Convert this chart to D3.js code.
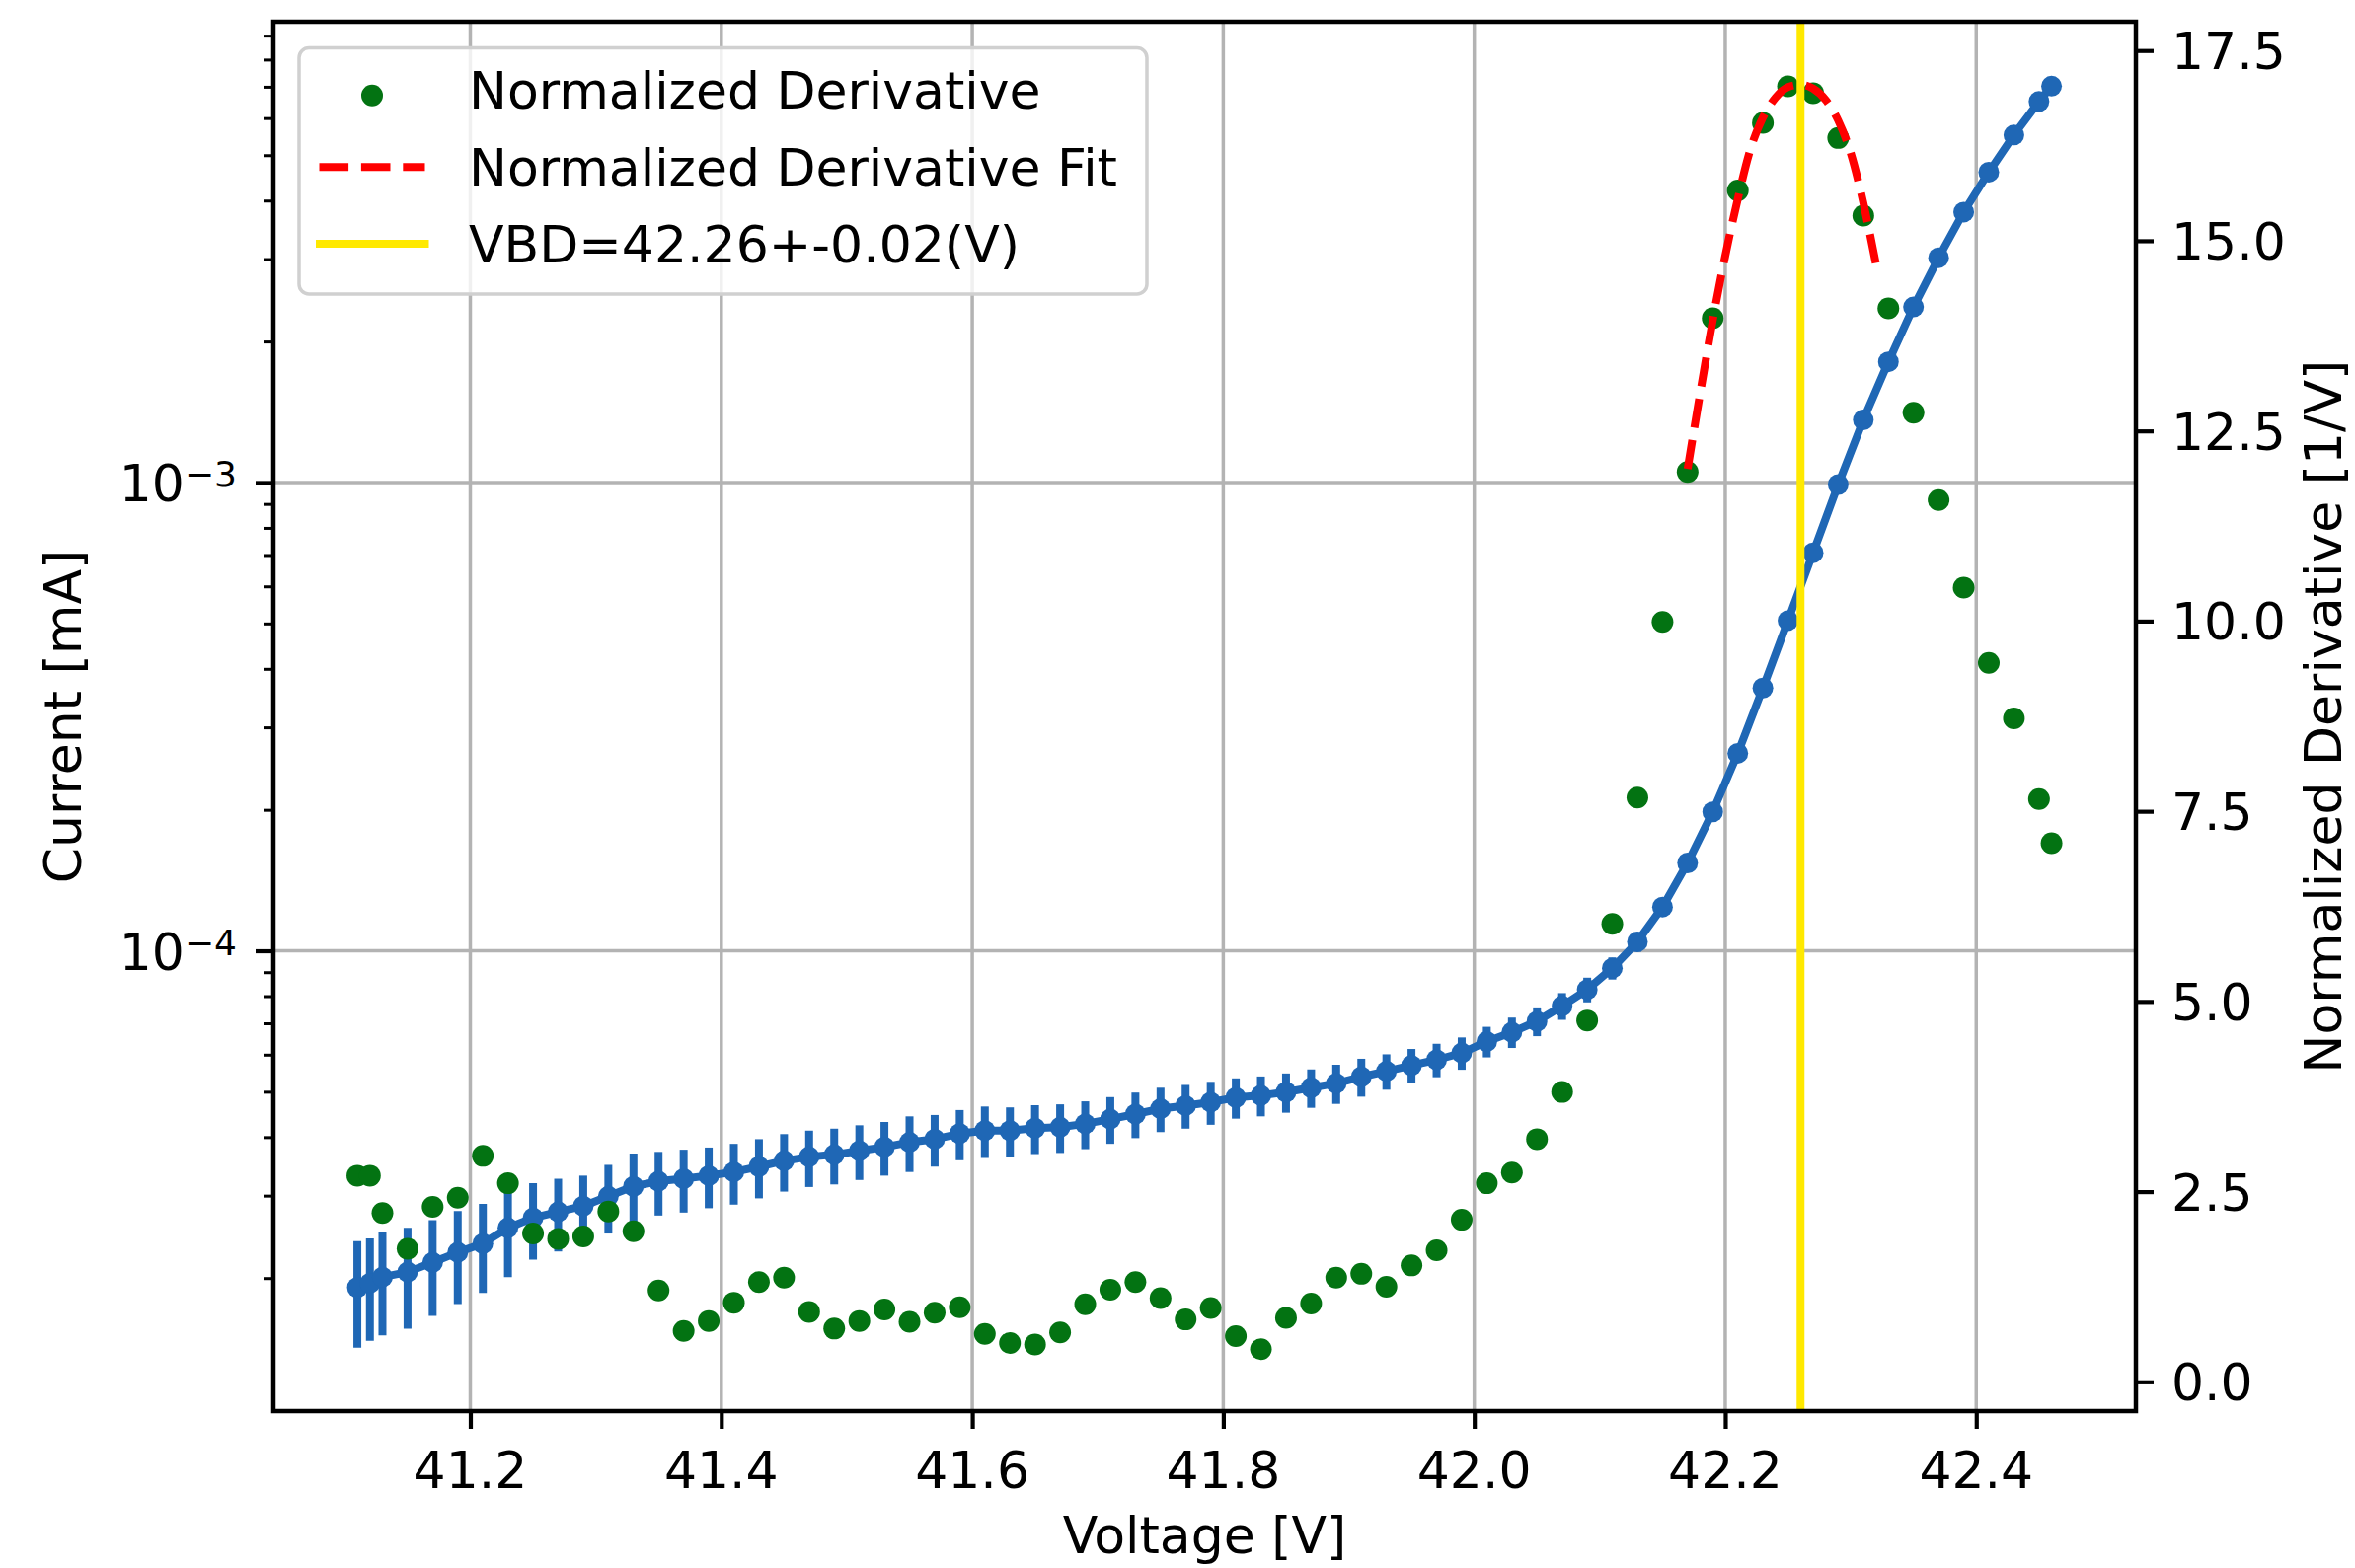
<!DOCTYPE html>
<html>
<head>
<meta charset="utf-8">
<script src="https://cdn.jsdelivr.net/npm/d3@7"></script>
<style>
  html, body { margin: 0; padding: 0; background: #ffffff; }
  svg { display: block; }
  text { font-family: "DejaVu Sans", sans-serif; fill: #000; }
</style>
</head>
<body>
<svg id="chart" width="2386" height="1589"></svg>
<script>
// ---------------- data ----------------
const voltage = [41.11, 41.12, 41.13, 41.15, 41.17, 41.19, 41.21, 41.23, 41.25, 41.27,
  41.29, 41.31, 41.33, 41.35, 41.37, 41.39, 41.41, 41.43, 41.45, 41.47,
  41.49, 41.51, 41.53, 41.55, 41.57, 41.59, 41.61, 41.63, 41.65, 41.67,
  41.69, 41.71, 41.73, 41.75, 41.77, 41.79, 41.81, 41.83, 41.85, 41.87,
  41.89, 41.91, 41.93, 41.95, 41.97, 41.99, 42.01, 42.03, 42.05, 42.07,
  42.09, 42.11, 42.13, 42.15, 42.17, 42.19, 42.21, 42.23, 42.25, 42.27,
  42.29, 42.31, 42.33, 42.35, 42.37, 42.39, 42.41, 42.43, 42.45, 42.46];

// current in units of 1e-5 mA
const current = [1.91, 1.95, 2.01, 2.06, 2.16, 2.27, 2.37, 2.56, 2.69, 2.77,
  2.85, 2.99, 3.14, 3.22, 3.26, 3.31, 3.37, 3.46, 3.56, 3.63,
  3.67, 3.74, 3.81, 3.90, 3.96, 4.07, 4.13, 4.13, 4.18, 4.20,
  4.27, 4.37, 4.48, 4.60, 4.67, 4.75, 4.86, 4.91, 4.99, 5.10,
  5.21, 5.38, 5.53, 5.69, 5.85, 6.05, 6.40, 6.70, 7.07, 7.62,
  8.26, 9.18, 10.45, 12.4, 15.4, 19.8, 26.4, 36.4, 50.7, 70.8,
  99.0, 136, 181, 237, 302, 378, 460, 552, 651, 702];

// current uncertainty in units of 1e-5 mA
const currentErr = [0.49, 0.48, 0.50, 0.50, 0.50, 0.51, 0.51, 0.55, 0.50, 0.49,
  0.46, 0.50, 0.55, 0.50, 0.50, 0.49, 0.50, 0.50, 0.50, 0.50,
  0.50, 0.50, 0.50, 0.53, 0.50, 0.50, 0.52, 0.50, 0.50, 0.50,
  0.50, 0.50, 0.50, 0.50, 0.50, 0.50, 0.48, 0.48, 0.48, 0.48,
  0.50, 0.50, 0.48, 0.48, 0.48, 0.48, 0.48, 0.50, 0.50, 0.50,
  0.50, 0.50, 0.50, 0.50, 0.50, 0.50, 0.50, 0.50, 0.50, 0.50,
  0.50, 0.50, 0.50, 0.50, 0.50, 0.50, 0.50, 0.50, 0.50, 0.50];

const derivative = [2.71, 2.71, 2.22, 1.75, 2.30, 2.42, 2.97, 2.61, 1.95, 1.88,
  1.91, 2.24, 1.98, 1.20, 0.67, 0.80, 1.04, 1.31, 1.37, 0.92,
  0.70, 0.80, 0.95, 0.79, 0.91, 0.98, 0.63, 0.51, 0.49, 0.65,
  1.02, 1.21, 1.31, 1.10, 0.82, 0.97, 0.60, 0.43, 0.84, 1.03,
  1.37, 1.42, 1.25, 1.53, 1.73, 2.13, 2.61, 2.75, 3.19, 3.81,
  4.75, 6.02, 7.68, 9.99, 11.96, 13.98, 15.66, 16.55, 17.03, 16.94,
  16.35, 15.33, 14.11, 12.74, 11.59, 10.44, 9.45, 8.72, 7.66, 7.08];

const fitVoltage = [42.17, 42.18, 42.19, 42.20, 42.21, 42.22, 42.23, 42.24,
  42.25, 42.26, 42.27, 42.28, 42.29, 42.30, 42.31, 42.32];
const fitValue = [12.0, 13.0, 13.95, 14.8, 15.55, 16.2, 16.62, 16.88,
  17.02, 17.05, 17.0, 16.85, 16.58, 16.15, 15.5, 14.7];

const vbd = 42.26;

const xTicks = [41.2, 41.4, 41.6, 41.8, 42.0, 42.2, 42.4];
const xTickLabels = ["41.2", "41.4", "41.6", "41.8", "42.0", "42.2", "42.4"];
const leftTicks = [1e-4, 1e-3];
const leftTickExponents = ["\u22124", "\u22123"];
const rightTicks = [0, 2.5, 5, 7.5, 10, 12.5, 15, 17.5];
const rightTickLabels = ["0.0", "2.5", "5.0", "7.5", "10.0", "12.5", "15.0", "17.5"];
const legendLabels = ["Normalized Derivative", "Normalized Derivative Fit", "VBD=42.26+-0.02(V)"];
const axisTitles = { x: "Voltage [V]", yLeft: "Current [mA]", yRight: "Normalized Derivative [1/V]" };

// ---------------- layout ----------------
const L = 277, R = 2164, T = 22, B = 1430;
const FS = 52;
const BLUE = "#1f67b5", GREEN = "#037312", RED = "#ff0000", YELLOW = "#ffe900";

const svg = d3.select("#chart");

const x = d3.scaleLinear().domain([41.0431, 42.5272]).range([L, R]);
const yL = d3.scaleLog().domain([Math.pow(10, -4.983), Math.pow(10, -2.016)]).range([B, T]);
const yR = d3.scaleLinear().domain([-0.385, 17.879]).range([B, T]);

const pts = voltage.map((v, i) => ({
  v, c: current[i] * 1e-5, e: currentErr[i] * 1e-5, d: derivative[i]
}));

// ---------------- grid ----------------
const grid = svg.append("g").attr("stroke", "#b3b3b3").attr("stroke-width", 3.5);
grid.selectAll("line.gx").data(xTicks).join("line")
  .attr("x1", d => x(d)).attr("x2", d => x(d)).attr("y1", T).attr("y2", B);
grid.selectAll("line.gy").data(leftTicks).join("line")
  .attr("x1", L).attr("x2", R).attr("y1", d => yL(d)).attr("y2", d => yL(d));

// ---------------- current with error bars ----------------
const cur = svg.append("g");
cur.selectAll("line.err").data(pts).join("line")
  .attr("x1", d => x(d.v)).attr("x2", d => x(d.v))
  .attr("y1", d => yL(d.c - d.e)).attr("y2", d => yL(d.c + d.e))
  .attr("stroke", BLUE).attr("stroke-width", 8);
cur.append("path").datum(pts)
  .attr("d", d3.line().x(d => x(d.v)).y(d => yL(d.c)))
  .attr("fill", "none").attr("stroke", BLUE).attr("stroke-width", 8)
  .attr("stroke-linejoin", "round");
cur.selectAll("circle").data(pts).join("circle")
  .attr("cx", d => x(d.v)).attr("cy", d => yL(d.c)).attr("r", 10.5)
  .attr("fill", BLUE);

// ---------------- derivative (twin axis) ----------------
const der = svg.append("g");
der.selectAll("circle").data(pts).join("circle")
  .attr("cx", d => x(d.v)).attr("cy", d => yR(d.d)).attr("r", 11)
  .attr("fill", GREEN);

const fitPts = fitVoltage.map((v, i) => ({ v, f: fitValue[i] }));
der.append("path").datum(fitPts)
  .attr("d", d3.line().x(d => x(d.v)).y(d => yR(d.f)).curve(d3.curveMonotoneX))
  .attr("fill", "none").attr("stroke", RED).attr("stroke-width", 8)
  .attr("stroke-dasharray", "29.6 12.8");

der.append("line")
  .attr("x1", x(vbd)).attr("x2", x(vbd)).attr("y1", T).attr("y2", B)
  .attr("stroke", YELLOW).attr("stroke-width", 8);

// ---------------- axes ----------------
function styleAxis(g) {
  g.select(".domain").remove();
  g.selectAll(".tick line").attr("stroke", "#000").attr("stroke-width", 4.2);
  g.selectAll(".tick text").remove();
}

svg.append("g").attr("transform", `translate(0,${B})`)
  .call(d3.axisBottom(x).tickValues(xTicks).tickSize(18)).call(styleAxis);
svg.append("g").attr("transform", `translate(${L},0)`)
  .call(d3.axisLeft(yL).tickValues(leftTicks).tickSize(18)).call(styleAxis);

const [d0, d1] = yL.domain();
const minorTicks = yL.ticks().filter(t => t > d0 && t < d1 && leftTicks.every(m => Math.abs(m - t) / m > 1e-6));
svg.append("g").attr("transform", `translate(${L},0)`)
  .call(d3.axisLeft(yL).tickValues(minorTicks).tickSize(10)).call(styleAxis)
  .selectAll(".tick line").attr("stroke-width", 3);

svg.append("g").attr("transform", `translate(${R},0)`)
  .call(d3.axisRight(yR).tickValues(rightTicks).tickSize(18)).call(styleAxis);

// spines
svg.append("rect").attr("x", L).attr("y", T).attr("width", R - L).attr("height", B - T)
  .attr("fill", "none").attr("stroke", "#000").attr("stroke-width", 4.5);

// tick labels
svg.append("g").selectAll("text").data(xTicks).join("text")
  .attr("x", d => x(d)).attr("y", B + 78).attr("text-anchor", "middle")
  .attr("font-size", FS).text((d, i) => xTickLabels[i]);

svg.append("g").selectAll("text").data(rightTicks).join("text")
  .attr("x", R + 36).attr("y", d => yR(d) + 19).attr("text-anchor", "start")
  .attr("font-size", FS).text((d, i) => rightTickLabels[i]);

const lt = svg.append("g").selectAll("text").data(leftTicks).join("text")
  .attr("x", 240).attr("y", d => yL(d) + 19).attr("text-anchor", "end")
  .attr("font-size", FS);
lt.append("tspan").text("10");
lt.append("tspan").attr("font-size", 36).attr("dy", -15).text((d, i) => leftTickExponents[i]);

// axis titles (nudged just inside the canvas so nothing is clipped)
svg.append("text").attr("x", (L + R) / 2).attr("y", 1574).attr("text-anchor", "middle")
  .attr("font-size", FS).text(axisTitles.x);
svg.append("text").attr("transform", `translate(82,${(T + B) / 2}) rotate(-90)`)
  .attr("text-anchor", "middle").attr("font-size", FS).text(axisTitles.yLeft);
svg.append("text").attr("transform", `translate(2372,${(T + B) / 2}) rotate(-90)`)
  .attr("text-anchor", "middle").attr("font-size", FS).text(axisTitles.yRight);

// ---------------- legend ----------------
const lg = svg.append("g");
lg.append("rect").attr("x", 303).attr("y", 48.5).attr("width", 859).attr("height", 249.5)
  .attr("rx", 10).attr("ry", 10)
  .attr("fill", "#ffffff").attr("fill-opacity", 0.8)
  .attr("stroke", "#d0d0d0").attr("stroke-width", 3.5);

const rowY = [91, 169.3, 247];
lg.append("circle").attr("cx", 377).attr("cy", rowY[0] + 5.7).attr("r", 11).attr("fill", GREEN);
lg.append("line").attr("x1", 323.5).attr("x2", 430.5).attr("y1", rowY[1]).attr("y2", rowY[1])
  .attr("stroke", RED).attr("stroke-width", 8).attr("stroke-dasharray", "29.6 12.8");
lg.append("line").attr("x1", 324).attr("x2", 430.5).attr("y1", rowY[2]).attr("y2", rowY[2])
  .attr("stroke", YELLOW).attr("stroke-width", 8).attr("stroke-linecap", "square");

lg.selectAll("text").data(legendLabels).join("text")
  .attr("x", 475).attr("y", (d, i) => rowY[i] + 19)
  .attr("font-size", FS).text(d => d);
</script>
</body>
</html>
